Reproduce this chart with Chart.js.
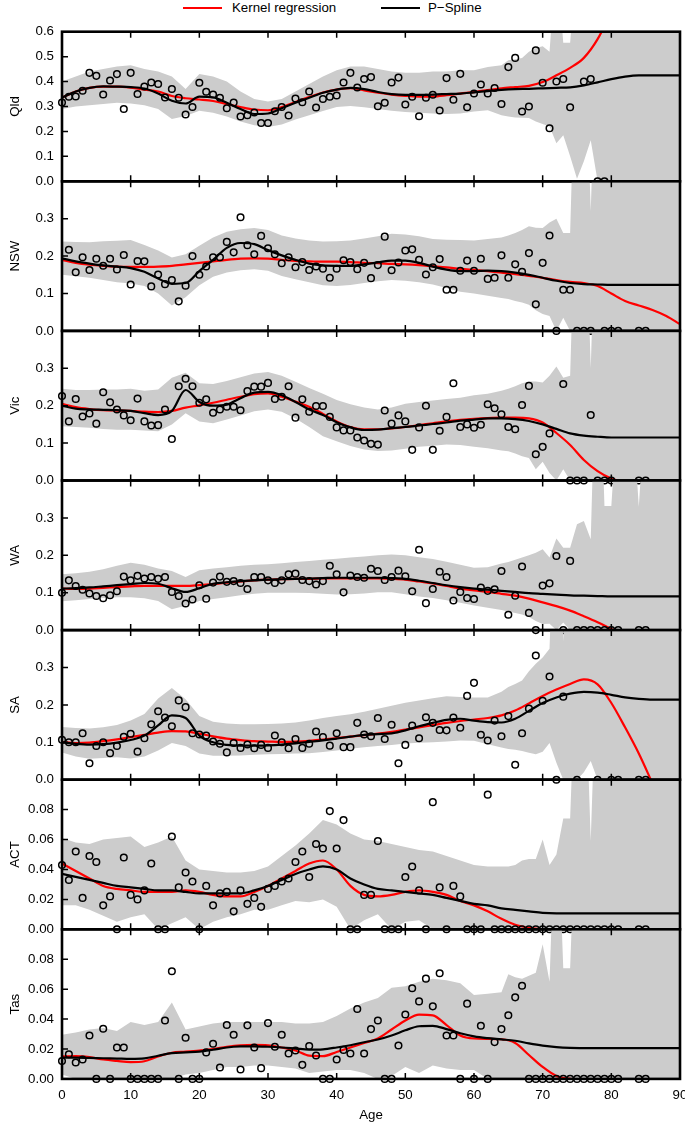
<!DOCTYPE html>
<html lang="en">
<head>
    <meta charset="UTF-8">
    <title>Kernel regression vs P-Spline by age</title>
    <script src="https://cdn.jsdelivr.net/npm/chart.js"></script>
    <style>
        html, body {
            margin: 0;
            padding: 0;
            width: 685px;
            height: 1123px;
            overflow: hidden;
            background: #fff;
            font-family: "Liberation Sans", Arial, sans-serif;
            color: #000;
        }
        body { position: relative; }
        .swatch {
            position: absolute;
            top: 7px;
            width: 39px;
            height: 0;
            border-top: 2.5px solid #000;
        }
        .label {
            position: absolute;
            top: 0;
            font-size: 13.3px;
            line-height: 15px;
            white-space: nowrap;
        }
        canvas.panel { position: absolute; left: 0; }
    </style>
</head>
<body>
    <span class="swatch" style="left:183px;border-top-color:#ff0000"></span>
    <span class="label" style="left:232px">Kernel regression</span>
    <span class="swatch" style="left:381px"></span>
    <span class="label" style="left:428px">P−Spline</span>

    <script>
        // ages used by the confidence band, the two smoothers and the observed rates
        const bandAges = [0, 2, 4, 6, 8, 10, 12, 14, 16, 18, 20, 22, 24, 26, 28, 30, 32, 34, 36, 38, 40, 42, 44, 46, 48, 50, 52, 54, 56, 58, 60, 62, 64,
            65, 66, 67, 68, 69, 70, 71, 72, 73, 74, 75, 76, 77, 78, 79, 80, 82, 84, 86, 88, 90];
        const curveAges = [0, 2, 4, 6, 8, 10, 12, 14, 16, 18, 20, 22, 24, 26, 28, 30, 32, 34, 36, 38, 40, 42, 44,
            46, 48, 50, 52, 54, 56, 58, 60, 62, 64, 66, 68, 70, 72, 74, 76, 78, 80, 82, 84, 86, 88, 90];
        const pointAges = [0, 1, 2, 3, 4, 5, 6, 7, 8, 9, 10, 11, 12, 13, 14, 15, 16, 17, 18, 19, 20, 21, 22, 23, 24, 25, 26, 27, 28, 29,
            30, 31, 32, 33, 34, 35, 36, 37, 38, 39, 40, 41, 42, 43, 44, 45, 46, 47, 48, 49, 50, 51, 52, 53, 54, 55, 56, 57, 58, 59,
            60, 61, 62, 63, 64, 65, 66, 67, 68, 69, 70, 71, 72, 73, 74, 75, 76, 77, 78, 79, 80, 81, 82, 83, 84, 85];
        const xTicks = [10, 20, 30, 40, 50, 60, 70, 80];

        // Qld
        const qldUpper = [0.40, 0.42, 0.44, 0.45, 0.46, 0.465, 0.45, 0.44, 0.42, 0.37, 0.43, 0.42, 0.40, 0.36, 0.33, 0.32, 0.33, 0.36, 0.39, 0.42, 0.445, 0.46, 0.46, 0.45, 0.44, 0.435, 0.435, 0.44, 0.44, 0.445, 0.445, 0.458, 0.465,
            0.485, 0.49, 0.495, 0.52, 0.535, 0.542, 0.52, 0.9, 0.556, 0.556, 0.9, 0.9, 0.9, 0.9, 0.9, 0.9, 0.9, 0.9, 0.9, 0.9, 0.9];
        const qldLower = [0.29, 0.30, 0.305, 0.31, 0.315, 0.312, 0.305, 0.29, 0.25, 0.262, 0.283, 0.275, 0.26, 0.24, 0.225, 0.218, 0.228, 0.248, 0.265, 0.282, 0.298, 0.302, 0.297, 0.29, 0.283, 0.278, 0.275, 0.272, 0.27, 0.272, 0.28, 0.285, 0.265,
            0.26, 0.256, 0.255, 0.254, 0.24, 0.23, 0.22, 0.153, 0.185, 0.10, 0.01, 0.08, 0.165, 0, 0, 0, 0, 0, 0, 0, 0];
        const qldKernel = [0.335, 0.36, 0.375, 0.38, 0.38, 0.376, 0.368, 0.36, 0.342, 0.333, 0.328, 0.322, 0.31, 0.298, 0.288, 0.285, 0.298, 0.318, 0.338, 0.356, 0.368, 0.374, 0.365,
            0.355, 0.348, 0.343, 0.34, 0.34, 0.345, 0.352, 0.358, 0.366, 0.373, 0.378, 0.383, 0.398, 0.425, 0.455, 0.495, 0.57, 0.68, 0.8, 0.9, 1.0, 1.1, 1.2];
        const qldSpline = [0.335, 0.36, 0.375, 0.381, 0.38, 0.378, 0.372, 0.352, 0.323, 0.312, 0.34, 0.337, 0.315, 0.29, 0.27, 0.272, 0.293, 0.315, 0.335, 0.355, 0.368, 0.375, 0.37,
            0.358, 0.35, 0.347, 0.347, 0.348, 0.35, 0.352, 0.357, 0.362, 0.367, 0.37, 0.371, 0.373, 0.375, 0.377, 0.385, 0.397, 0.41, 0.42, 0.425, 0.425, 0.425, 0.425];
        const qldRates = [0.316, 0.339, 0.34, 0.363, 0.435, 0.423, 0.348, 0.404, 0.43, 0.29,
            0.435, 0.35, 0.38, 0.396, 0.39, 0.336, 0.37, 0.335, 0.268, 0.298,
            0.395, 0.359, 0.348, 0.335, 0.293, 0.316, 0.26, 0.265, 0.276, 0.234,
            0.234, 0.281, 0.298, 0.264, 0.332, 0.317, 0.36, 0.296, 0.33, 0.339,
            0.344, 0.396, 0.435, 0.376, 0.41, 0.418, 0.301, 0.315, 0.396, 0.416,
            0.308, 0.339, 0.261, 0.335, 0.347, 0.284, 0.414, 0.327, 0.431, 0.297,
            0.352, 0.388, 0.352, 0.374, 0.31, 0.458, 0.495, 0.28, 0.30, 0.525,
            0.395, 0.213, 0.40, 0.41, 0.297, null, 0.40, 0.41, 0, 0,
            null, null, null, null, null, null];

        // NSW
        const nswUpper = [0.239, 0.238, 0.237, 0.24, 0.241, 0.243, 0.23, 0.215, 0.196, 0.205, 0.228, 0.25, 0.265, 0.272, 0.275, 0.27, 0.255, 0.247, 0.242, 0.239, 0.24, 0.242, 0.247, 0.253, 0.26, 0.258, 0.253, 0.246, 0.244, 0.243, 0.242, 0.246, 0.25,
            0.255, 0.262, 0.27, 0.28, 0.276, 0.275, 0.29, 0.30, 0.262, 0.262, 0.9, 0.9, 0.32, 0.9, 0.9, 0.9, 0.9, 0.9, 0.9, 0.9, 0.9];
        const nswLower = [0.15, 0.146, 0.142, 0.136, 0.13, 0.127, 0.12, 0.10, 0.068, 0.09, 0.122, 0.145, 0.156, 0.162, 0.165, 0.161, 0.147, 0.138, 0.13, 0.122, 0.12, 0.123, 0.128, 0.133, 0.136, 0.134, 0.13, 0.124, 0.115, 0.105, 0.10, 0.094, 0.088,
            0.085, 0.08, 0.076, 0.07, 0.055, 0.045, 0.04, 0, 0.035, 0, 0, 0, 0, 0, 0, 0, 0, 0, 0, 0, 0];
        const nswKernel = [0.19, 0.182, 0.177, 0.174, 0.172, 0.171, 0.171, 0.172, 0.174, 0.178, 0.182, 0.186, 0.19, 0.193, 0.194, 0.193, 0.19, 0.187, 0.186, 0.185, 0.185, 0.184, 0.182,
            0.181, 0.179, 0.178, 0.176, 0.173, 0.17, 0.166, 0.163, 0.16, 0.156, 0.152, 0.147, 0.142, 0.136, 0.131, 0.128, 0.12, 0.10, 0.08, 0.068, 0.056, 0.04, 0.018];
        const nswSpline = [0.194, 0.186, 0.18, 0.175, 0.172, 0.168, 0.158, 0.14, 0.126, 0.128, 0.16, 0.19, 0.222, 0.235, 0.232, 0.216, 0.202, 0.19, 0.18, 0.175, 0.174, 0.174, 0.178,
            0.183, 0.188, 0.188, 0.182, 0.172, 0.164, 0.16, 0.16, 0.161, 0.16, 0.156, 0.15, 0.142, 0.134, 0.128, 0.125, 0.124, 0.123, 0.123, 0.123, 0.123, 0.123, 0.123];
        const nswRates = [null, 0.217, 0.157, 0.197, 0.163, 0.193, 0.174, 0.193, 0.164, 0.203,
            0.124, 0.187, 0.186, 0.119, 0.151, 0.125, 0.136, 0.079, 0.121, 0.20,
            0.15, 0.172, 0.197, 0.197, 0.238, 0.21, 0.304, 0.229, 0.205, 0.254,
            0.221, 0.205, 0.181, 0.197, 0.17, 0.184, 0.163, 0.172, 0.166, 0.142,
            0.166, 0.189, 0.184, 0.165, 0.182, 0.141, 0.176, 0.252, 0.162, 0.183,
            0.215, 0.218, 0.19, 0.151, 0.17, 0.192, 0.11, 0.11, 0.161, 0.188,
            0.161, 0.193, 0.139, 0.142, 0.202, 0.142, 0.178, 0.158, 0.208, 0.071,
            0.182, 0.255, 0, 0.11, 0.11, 0, 0, 0, null, 0,
            0, 0, null, null, 0, 0];

        // Vic
        const vicUpper = [0.245, 0.242, 0.242, 0.243, 0.243, 0.245, 0.24, 0.243, 0.275, 0.288, 0.26, 0.258, 0.266, 0.276, 0.286, 0.29, 0.28, 0.264, 0.247, 0.232, 0.215, 0.204, 0.195, 0.19, 0.195, 0.205, 0.21, 0.214, 0.218, 0.221, 0.228, 0.232, 0.24,
            0.245, 0.252, 0.26, 0.265, 0.265, 0.262, 0.28, 0.305, 0.275, 0.28, 0.9, 0.9, 0.30, 0.9, 0.9, 0.9, 0.9, 0.9, 0.9, 0.9, 0.9];
        const vicLower = [0.145, 0.143, 0.141, 0.138, 0.136, 0.136, 0.134, 0.132, 0.15, 0.18, 0.158, 0.153, 0.163, 0.174, 0.185, 0.19, 0.184, 0.166, 0.143, 0.118, 0.105, 0.092, 0.083, 0.079, 0.08, 0.085, 0.09, 0.093, 0.096, 0.095, 0.09, 0.086, 0.08,
            0.078, 0.072, 0.065, 0.06, 0.03, 0.05, 0.02, 0, 0.03, 0, 0, 0, 0, 0, 0, 0, 0, 0, 0, 0, 0];
        const vicKernel = [0.205, 0.196, 0.191, 0.188, 0.187, 0.186, 0.184, 0.183, 0.186, 0.195, 0.201, 0.208, 0.216, 0.224, 0.231, 0.233, 0.224, 0.211, 0.197, 0.178, 0.158, 0.143, 0.137,
            0.137, 0.139, 0.143, 0.148, 0.153, 0.158, 0.162, 0.165, 0.167, 0.168, 0.168, 0.166, 0.155, 0.127, 0.095, 0.055, 0.025, 0.005, -0.005, -0.01, -0.015, -0.02, -0.025];
        const vicSpline = [0.20, 0.192, 0.19, 0.189, 0.188, 0.186, 0.18, 0.175, 0.186, 0.242, 0.21, 0.20, 0.203, 0.22, 0.235, 0.237, 0.228, 0.21, 0.19, 0.175, 0.156, 0.142, 0.135,
            0.136, 0.14, 0.143, 0.147, 0.151, 0.155, 0.16, 0.163, 0.166, 0.166, 0.164, 0.159, 0.15, 0.138, 0.126, 0.12, 0.117, 0.115, 0.115, 0.115, 0.115, 0.115, 0.115];
        const vicRates = [0.226, 0.158, 0.218, 0.171, 0.179, 0.152, 0.236, 0.209, 0.19, 0.174,
            0.161, 0.219, 0.158, 0.147, 0.148, 0.19, 0.111, 0.252, 0.272, 0.252,
            0.208, 0.217, 0.181, 0.19, 0.197, 0.197, 0.188, 0.239, 0.251, 0.251,
            0.261, 0.218, 0.224, 0.252, 0.168, 0.217, 0.184, 0.199, 0.199, 0.17,
            0.142, 0.134, 0.134, 0.115, 0.107, 0.098, 0.096, 0.187, 0.152, 0.174,
            0.158, 0.082, 0.142, 0.20, 0.082, 0.133, 0.17, 0.26, 0.143, 0.15,
            0.141, 0.149, 0.204, 0.193, 0.177, 0.143, 0.137, 0.202, 0.253, 0.07,
            0.09, 0.126, null, 0.258, 0, 0, 0, 0.175, 0, 0,
            0, null, null, null, 0, 0];

        // WA
        const waUpper = [0.149, 0.152, 0.156, 0.163, 0.172, 0.18, 0.175, 0.165, 0.158, 0.142, 0.16, 0.165, 0.168, 0.172, 0.175, 0.176, 0.179, 0.182, 0.185, 0.188, 0.191, 0.194, 0.197, 0.2, 0.202, 0.2, 0.195, 0.19, 0.183, 0.175, 0.167, 0.168, 0.178,
            0.182, 0.188, 0.194, 0.2, 0.207, 0.216, 0.194, 0.245, 0.22, 0.22, 0.283, 0.292, 0.243, 0.9, 0.332, 0.332, 0.9, 0.33, 0.9, 0.9, 0.9];
        const waLower = [0.077, 0.08, 0.083, 0.086, 0.088, 0.088, 0.085, 0.078, 0.056, 0.065, 0.078, 0.083, 0.088, 0.093, 0.097, 0.10, 0.10, 0.10, 0.099, 0.097, 0.095, 0.096, 0.098, 0.101, 0.101, 0.096, 0.09, 0.086, 0.08, 0.073, 0.066, 0.06, 0.054,
            0.05, 0.046, 0.042, 0.035, 0.024, 0.016, 0.017, 0, 0.02, 0, 0, 0, 0, 0, 0, 0, 0, 0, 0, 0, 0];
        const waKernel = [0.111, 0.11, 0.111, 0.113, 0.115, 0.117, 0.118, 0.118, 0.118, 0.118, 0.12, 0.123, 0.127, 0.13, 0.133, 0.135, 0.136, 0.137, 0.137, 0.138, 0.138, 0.138, 0.138,
            0.138, 0.137, 0.135, 0.13, 0.125, 0.118, 0.111, 0.106, 0.102, 0.097, 0.092, 0.084, 0.074, 0.064, 0.052, 0.037, 0.021, 0.003, -0.015, -0.035, -0.055, -0.075, -0.095];
        const waSpline = [0.111, 0.112, 0.114, 0.117, 0.12, 0.123, 0.126, 0.124, 0.112, 0.102, 0.112, 0.124, 0.128, 0.131, 0.133, 0.135, 0.136, 0.137, 0.138, 0.139, 0.14, 0.14, 0.14,
            0.14, 0.139, 0.137, 0.132, 0.126, 0.12, 0.115, 0.111, 0.108, 0.105, 0.102, 0.099, 0.097, 0.095, 0.093, 0.092, 0.091, 0.09, 0.09, 0.09, 0.09, 0.09, 0.09];
        const waRates = [0.10, 0.133, 0.118, 0.108, 0.098, 0.091, 0.085, 0.093, 0.104, 0.143,
            0.133, 0.145, 0.138, 0.142, 0.137, 0.142, 0.102, 0.091, 0.071, 0.082,
            0.12, 0.084, 0.127, 0.143, 0.129, 0.131, 0.126, 0.11, 0.142, 0.142,
            0.133, 0.126, 0.133, 0.149, 0.151, 0.134, 0.131, 0.122, 0.131, 0.172,
            0.149, 0.101, 0.146, 0.142, 0.14, 0.164, 0.158, 0.134, 0.142, 0.159,
            0.144, 0.104, 0.215, 0.072, 0.11, 0.156, 0.142, 0.079, 0.102, 0.086,
            0.083, 0.114, 0.105, 0.109, 0.158, 0.041, 0.092, 0.17, 0.046, 0,
            0.119, 0.125, 0.198, 0, 0.185, 0, 0, 0, 0, 0,
            0, 0, null, null, 0, 0];

        // SA
        const saUpper = [0.141, 0.138, 0.137, 0.14, 0.146, 0.158, 0.176, 0.217, 0.245, 0.215, 0.17, 0.155, 0.15, 0.148, 0.148, 0.149, 0.15, 0.153, 0.158, 0.165, 0.17, 0.175, 0.182, 0.19, 0.198, 0.206, 0.212, 0.218, 0.223, 0.221, 0.22, 0.22, 0.235,
            0.248, 0.256, 0.265, 0.29, 0.31, 0.327, 0.35, 0.9, 0.37, 0.9, 0.9, 0.9, 0.9, 0.9, 0.9, 0.9, 0.9, 0.9, 0.9, 0.9, 0.9];
        const saLower = [0.073, 0.062, 0.056, 0.058, 0.06, 0.057, 0.062, 0.078, 0.098, 0.09, 0.07, 0.064, 0.064, 0.065, 0.067, 0.068, 0.069, 0.07, 0.071, 0.074, 0.078, 0.083, 0.087, 0.09, 0.093, 0.097, 0.099, 0.10, 0.102, 0.105, 0.104, 0.095, 0.086,
            0.082, 0.08, 0.077, 0.072, 0.068, 0.075, 0.098, 0.045, 0, 0, 0, 0.02, 0.05, 0, 0, 0, 0, 0, 0, 0, 0];
        const saKernel = [0.101, 0.098, 0.099, 0.103, 0.108, 0.114, 0.12, 0.126, 0.13, 0.129, 0.123, 0.116, 0.11, 0.106, 0.103, 0.102, 0.101, 0.102, 0.104, 0.107, 0.111, 0.115, 0.119,
            0.123, 0.128, 0.134, 0.14, 0.146, 0.152, 0.157, 0.161, 0.165, 0.172, 0.185, 0.204, 0.224, 0.241, 0.256, 0.268, 0.255, 0.205, 0.14, 0.07, -0.01, -0.09, -0.17];
        const saSpline = [0.10, 0.096, 0.094, 0.095, 0.099, 0.106, 0.118, 0.145, 0.172, 0.165, 0.118, 0.10, 0.093, 0.091, 0.091, 0.092, 0.094, 0.097, 0.101, 0.105, 0.11, 0.115, 0.12,
            0.122, 0.124, 0.132, 0.143, 0.152, 0.16, 0.163, 0.158, 0.154, 0.153, 0.163, 0.184, 0.205, 0.22, 0.23, 0.235, 0.233, 0.227, 0.22, 0.216, 0.214, 0.214, 0.214];
        const saRates = [0.107, 0.10, 0.10, 0.124, 0.044, 0.09, 0.10, 0.071, 0.09, 0.115,
            0.123, 0.075, 0.111, 0.148, 0.183, 0.166, 0.143, 0.212, 0.194, 0.124,
            0.121, 0.118, 0.102, 0.096, 0.073, 0.098, 0.085, 0.094, 0.084, 0.093,
            0.085, 0.118, 0.10, 0.084, 0.109, 0.085, 0.096, 0.129, 0.114, 0.091,
            0.124, 0.087, 0.087, 0.152, 0.121, 0.116, 0.165, 0.109, 0.147, 0.044,
            0.093, 0.145, 0.111, 0.167, 0.152, 0.133, 0.132, 0.166, 0.139, 0.224,
            0.259, 0.12, 0.105, 0.158, 0.116, 0.17, 0.04, 0.124, 0.19, 0.332,
            0.211, 0.276, 0, 0.222, null, 0, null, null, 0, null,
            0, 0, null, null, 0, 0];

        // ACT
        const actUpper = [0.061, 0.058, 0.057, 0.06, 0.061, 0.062, 0.055, 0.058, 0.062, 0.046, 0.04, 0.039, 0.038, 0.038, 0.039, 0.042, 0.049, 0.056, 0.064, 0.073, 0.07, 0.064, 0.06, 0.059, 0.057, 0.055, 0.053, 0.052, 0.049, 0.046, 0.043, 0.042, 0.042,
            0.042, 0.043, 0.046, 0.047, 0.047, 0.06, 0.043, 0.05, 0.074, 0.074, 0.2, 0.2, 0.059, 0.2, 0.2, 0.2, 0.2, 0.2, 0.2, 0.2, 0.2];
        const actLower = [0.016, 0.016, 0.013, 0.009, 0.005, 0.008, 0.01, 0, 0.004, 0.008, 0, 0.005, 0.008, 0.01, 0.013, 0.013, 0.016, 0.019, 0.018, 0.02, 0.015, 0, 0.006, 0.01, 0, 0.005, 0.006, 0, 0, 0, 0, 0, 0,
            0, 0, 0, 0, 0, 0, 0, 0, 0, 0, 0, 0, 0, 0, 0, 0, 0, 0, 0, 0, 0];
        const actKernel = [0.044, 0.039, 0.034, 0.029, 0.027, 0.026, 0.025, 0.025, 0.025, 0.026, 0.025, 0.023, 0.022, 0.022, 0.025, 0.029, 0.034, 0.039, 0.044, 0.046, 0.04, 0.029, 0.023,
            0.022, 0.023, 0.025, 0.026, 0.025, 0.023, 0.019, 0.016, 0.012, 0.007, 0.003, 0.001, 0, -0.001, -0.002, -0.002, -0.002, -0.002, -0.002, -0.002, -0.002, -0.002, -0.002];
        const actSpline = [0.037, 0.035, 0.033, 0.031, 0.029, 0.028, 0.027, 0.026, 0.026, 0.025, 0.024, 0.024, 0.024, 0.024, 0.026, 0.029, 0.033, 0.037, 0.04, 0.042, 0.04, 0.034, 0.03,
            0.027, 0.026, 0.025, 0.024, 0.023, 0.021, 0.019, 0.017, 0.016, 0.014, 0.013, 0.012, 0.011, 0.0107, 0.0107, 0.0107, 0.0107, 0.0107, 0.0107, 0.0107, 0.0107, 0.0107, 0.0107];
        const actRates = [0.043, 0.033, 0.052, 0.021, 0.049, 0.045, 0.016, 0.022, 0, 0.048,
            0.023, 0.02, 0.026, 0.044, 0, 0, 0.062, 0.028, 0.038, 0.032,
            0, 0.029, 0.016, 0.024, 0.025, 0.012, 0.026, 0.017, 0.021, 0.015,
            0.027, 0.029, 0.032, 0.034, 0.045, 0.052, 0.035, 0.057, 0.054, 0.079,
            0.054, 0.073, 0, 0, 0.023, 0.023, 0.059, 0, 0, 0,
            0.035, 0.042, 0.026, 0, 0.085, 0.028, 0, 0.029, 0.022, 0,
            0, 0, 0.09, 0, 0, 0, 0, 0, 0, 0,
            0, 0, 0, 0, 0, 0, 0, 0, 0, 0,
            0, 0, null, null, 0, 0];

        // Tas
        const tasUpper = [0.0295, 0.031, 0.033, 0.034, 0.032, 0.038, 0.036, 0.038, 0.051, 0.033, 0.035, 0.037, 0.038, 0.038, 0.038, 0.038, 0.038, 0.037, 0.037, 0.038, 0.042, 0.047, 0.051, 0.054, 0.061, 0.062, 0.065, 0.067, 0.066, 0.064, 0.056, 0.057, 0.058,
            0.07, 0.068, 0.067, 0.069, 0.071, 0.09, 0.065, 0.2, 0.074, 0.074, 0.2, 0.2, 0.2, 0.2, 0.2, 0.2, 0.2, 0.2, 0.2, 0.2, 0.2];
        const tasLower = [0.003, 0, 0, 0, 0, 0, 0, 0, 0, 0.003, 0.004, 0.006, 0.008, 0.008, 0.009, 0.009, 0.008, 0.007, 0.004, 0.005, 0.006, 0.006, 0.004, 0, 0.002, 0.008, 0.004, 0.009, 0.007, 0.006, 0.006, 0, 0,
            0, 0, 0, 0, 0, 0, 0, 0, 0, 0, 0, 0, 0, 0, 0, 0, 0, 0, 0, 0, 0];
        const tasKernel = [0.015, 0.0152, 0.0145, 0.013, 0.012, 0.0112, 0.0118, 0.015, 0.0175, 0.0182, 0.019, 0.02, 0.0215, 0.0225, 0.0228, 0.0225, 0.021, 0.019, 0.0155, 0.0152, 0.018, 0.021, 0.024,
            0.027, 0.033, 0.039, 0.043, 0.0425, 0.036, 0.029, 0.027, 0.0268, 0.0265, 0.024, 0.016, 0.008, 0.002, 0, -0.001, -0.001, -0.001, -0.001, -0.001, -0.001, -0.001, -0.001];
        const tasSpline = [0.0143, 0.0142, 0.014, 0.0138, 0.0136, 0.0134, 0.0137, 0.0155, 0.0172, 0.0177, 0.0182, 0.0195, 0.021, 0.0217, 0.0218, 0.0215, 0.021, 0.0203, 0.0196, 0.0198, 0.021, 0.0225, 0.0245,
            0.0263, 0.029, 0.0325, 0.0352, 0.0355, 0.0333, 0.0305, 0.0284, 0.0272, 0.0264, 0.0255, 0.0237, 0.0222, 0.0212, 0.0207, 0.0206, 0.0206, 0.0206, 0.0206, 0.0206, 0.0206, 0.0206, 0.0206];
        const tasRates = [0.012, 0.0165, 0.011, 0.013, 0.029, 0, 0.0335, 0, 0.021, 0.021,
            0, 0, 0, 0, 0, 0.039, 0.072, 0, 0.0275, 0,
            0, 0.0177, 0.0235, 0.0076, 0.036, 0.0295, 0.0063, 0.0358, 0.021, 0.0072,
            0.0373, 0.0215, 0.0295, 0.017, 0.019, 0.0094, 0.022, 0.0156, 0, 0,
            0.013, 0.0194, 0.017, 0.0467, 0.017, 0.0333, 0.039, 0, 0, 0.0223,
            0.043, 0.0606, 0.0518, 0.067, 0.0485, 0.0706, 0.029, 0.029, 0, 0.0503,
            0, 0.0355, 0, 0.0246, 0.0333, 0.0425, 0.0545, 0.0623, 0, 0,
            0, 0, 0, 0, 0, 0, 0, 0, 0, 0,
            0, 0, null, null, 0, 0];

        const panels = [
            { name: 'Qld', max: 0.6, step: 0.1, digits: 1, showTop: true, upper: qldUpper, lower: qldLower, kernel: qldKernel, spline: qldSpline, rates: qldRates },
            { name: 'NSW', max: 0.4, step: 0.1, digits: 1, upper: nswUpper, lower: nswLower, kernel: nswKernel, spline: nswSpline, rates: nswRates },
            { name: 'Vic', max: 0.4, step: 0.1, digits: 1, upper: vicUpper, lower: vicLower, kernel: vicKernel, spline: vicSpline, rates: vicRates },
            { name: 'WA', max: 0.4, step: 0.1, digits: 1, upper: waUpper, lower: waLower, kernel: waKernel, spline: waSpline, rates: waRates },
            { name: 'SA', max: 0.4, step: 0.1, digits: 1, upper: saUpper, lower: saLower, kernel: saKernel, spline: saSpline, rates: saRates },
            { name: 'ACT', max: 0.1, step: 0.02, digits: 2, upper: actUpper, lower: actLower, kernel: actKernel, spline: actSpline, rates: actRates },
            { name: 'Tas', max: 0.1, step: 0.02, digits: 2, upper: tasUpper, lower: tasLower, kernel: tasKernel, spline: tasSpline, rates: tasRates }
        ];

        const FONT = { family: '"Liberation Sans", Arial, sans-serif', size: 13.3 };
        Chart.defaults.font.family = FONT.family;
        Chart.defaults.font.size = FONT.size;
        Chart.defaults.color = '#000';

        const TOP0 = 31.7;      // top edge of the first panel
        const PANEL_H = 149.6;  // height of each panel
        const X_AXIS_H = 44;    // room for the age labels under the last panel
        const MARGIN = 18;      // canvas room around each panel

        function xy(xs, ys) {
            return xs.map((x, i) => ({ x: x, y: ys[i] })).filter(d => d.y !== null);
        }

        // frame with inward tick marks, like the original plot
        const framePlugin = {
            id: 'frame',
            afterDraw(chart) {
                const { ctx, chartArea: a, scales } = chart;
                ctx.save();
                ctx.strokeStyle = '#000';
                ctx.lineWidth = 1.5;
                ctx.beginPath();
                xTicks.forEach(v => {
                    const x = scales.x.getPixelForValue(v);
                    ctx.moveTo(x, a.top); ctx.lineTo(x, a.top + 6);
                    ctx.moveTo(x, a.bottom); ctx.lineTo(x, a.bottom - 6);
                });
                scales.y.ticks.forEach(t => {
                    const y = scales.y.getPixelForValue(t.value);
                    ctx.moveTo(a.left, y); ctx.lineTo(a.left + 6, y);
                });
                ctx.stroke();
                ctx.lineWidth = 2.6;
                ctx.strokeRect(a.left, a.top, a.right - a.left, a.bottom - a.top);
                ctx.restore();
            }
        };

        panels.forEach((p, i) => {
            const last = i === panels.length - 1;
            const top = TOP0 + i * PANEL_H;
            const canvasTop = Math.floor(top) - MARGIN;
            const padTop = top - canvasTop;
            const height = Math.ceil(padTop + PANEL_H + (last ? X_AXIS_H + 2 : MARGIN));
            const padBottom = height - padTop - PANEL_H - (last ? X_AXIS_H : 0);

            const cv = document.createElement('canvas');
            cv.className = 'panel';
            cv.width = 700;
            cv.height = height;
            cv.style.top = canvasTop + 'px';
            document.body.appendChild(cv);

            const xScale = last ? {
                type: 'linear', min: 0, max: 90,
                grid: { display: false, drawTicks: false },
                border: { display: false },
                ticks: { stepSize: 10, padding: 8, color: '#000', font: FONT, maxRotation: 0 },
                title: { display: true, text: 'Age', color: '#000', font: FONT, padding: 0 },
                afterFit: s => { s.height = X_AXIS_H; }
            } : {
                type: 'linear', min: 0, max: 90,
                display: false,
                afterFit: s => { s.height = 0; }
            };

            new Chart(cv, {
                type: 'line',
                data: {
                    datasets: [
                        {   // lower edge of the band
                            data: xy(bandAges, p.lower),
                            borderColor: 'rgba(0,0,0,0)', borderWidth: 0,
                            pointRadius: 0, fill: false, tension: 0, order: 5
                        },
                        {   // upper edge, filled down to the lower edge
                            data: xy(bandAges, p.upper),
                            borderColor: 'rgba(0,0,0,0)', borderWidth: 0,
                            backgroundColor: '#cccccc',
                            pointRadius: 0, fill: '-1', tension: 0, order: 4
                        },
                        {
                            label: 'Kernel regression',
                            data: xy(curveAges, p.kernel),
                            borderColor: '#ff0000', borderWidth: 2.2,
                            pointRadius: 0, cubicInterpolationMode: 'monotone',
                            fill: false, clip: 0, order: 3
                        },
                        {
                            label: 'P-Spline',
                            data: xy(curveAges, p.spline),
                            borderColor: '#000000', borderWidth: 2.2,
                            pointRadius: 0, cubicInterpolationMode: 'monotone',
                            fill: false, clip: 0, order: 2
                        },
                        {
                            label: 'Observed',
                            data: xy(pointAges, p.rates),
                            showLine: false,
                            pointRadius: 3.3,
                            pointBorderWidth: 1.5,
                            pointBorderColor: '#000',
                            pointBackgroundColor: 'rgba(0,0,0,0)',
                            clip: false, order: 1
                        }
                    ]
                },
                options: {
                    responsive: false,
                    animation: false,
                    events: [],
                    layout: { padding: { left: 0, right: 20, top: padTop, bottom: padBottom } },
                    plugins: { legend: { display: false }, tooltip: { enabled: false } },
                    scales: {
                        x: xScale,
                        y: {
                            type: 'linear', min: 0, max: p.max,
                            grid: { display: false, drawTicks: false },
                            border: { display: false },
                            ticks: {
                                stepSize: p.step, padding: 8, color: '#000', font: FONT,
                                callback: v => (!p.showTop && Math.abs(v - p.max) < 1e-9) ? '' : Number(v).toFixed(p.digits)
                            },
                            title: { display: true, text: p.name, color: '#000', font: FONT, padding: { top: 7, bottom: 0 } },
                            afterFit: s => { s.width = 62; }
                        }
                    }
                },
                plugins: [framePlugin]
            });
        });
    </script>
</body>
</html>
